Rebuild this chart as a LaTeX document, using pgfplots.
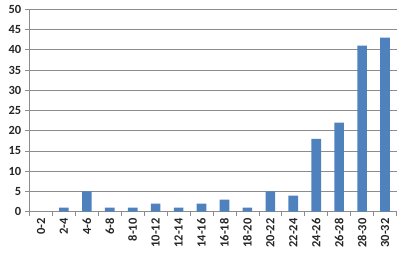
\documentclass[border=0pt]{standalone}
\usepackage{pgfplots}
\pgfplotsset{compat=1.18}
\usepackage{fontspec}
\setmainfont{Carlito}[BoldFont={Carlito Bold}]
\usetikzlibrary{calc}
\definecolor{barblue}{HTML}{4F81BD}
\definecolor{gridgray}{HTML}{8C8C8C}
\begin{document}
\begin{tikzpicture}
\begin{axis}[
  scale only axis,
  width=367bp, height=202.4bp,
  xmin=-0.5, xmax=15.5,
  ymin=0, ymax=50,
  ytick={0,5,...,50},
  xtick={0,...,15},
  xticklabels={0-2,2-4,4-6,6-8,8-10,10-12,12-14,14-16,16-18,18-20,20-22,22-24,24-26,26-28,28-30,30-32},
  minor xtick={-0.5,0.5,...,15.5},
  major x tick style={draw=none},
  minor x tick style={gridgray, line width=0.7pt},
  minor tick length=4bp,
  major tick length=4bp,
  tick align=outside,
  y tick style={gridgray, line width=0.7pt},
  ymajorgrids,
  grid style={gridgray, line width=0.7pt},
  axis x line*=bottom,
  axis y line*=left,
  axis line style={gridgray, line width=0.7pt},
  /pgf/number format/assume math mode=true,
  ticklabel style={font=\fontsize{12.5}{14}\selectfont\bfseries, text=black!85},
  x tick label style={rotate=90, anchor=east, inner sep=1pt},
  xticklabel shift=1.5bp,
  yticklabel shift=3bp,
  y tick label style={anchor=east, inner sep=1pt},
  ybar, bar width=9.6bp,
  clip=false,
]
\addplot[fill=barblue, draw=none] coordinates {
(0,0) (1,1) (2,5) (3,1) (4,1) (5,2) (6,1) (7,2) (8,3) (9,1) (10,5) (11,4) (12,18) (13,22) (14,41) (15,43)
};
\end{axis}
\pgfresetboundingbox
\path ($(current axis.south west)+(-29.5bp,-45.3bp)$) rectangle ($(current axis.north east)+(13.5bp,9.3bp)$);
\end{tikzpicture}
\end{document}
